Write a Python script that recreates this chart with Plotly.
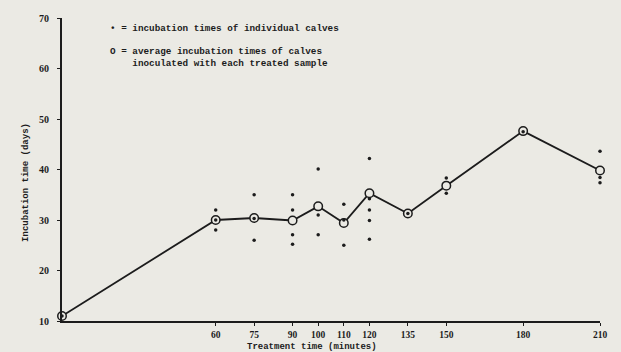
import plotly.graph_objects as go

# Treatment times (minutes)
times = [0, 60, 75, 90, 100, 110, 120, 135, 150, 180, 210]
# Average incubation times (days)
averages = [11.0, 30.0, 30.4, 29.9, 32.7, 29.4, 35.3, 31.3, 36.8, 47.6, 39.8]
# Individual calves incubation times (days) per treatment time
individual = {
    0: [11.0],
    60: [32.0, 30.0, 28.0],
    75: [35.0, 30.3, 26.0],
    90: [35.0, 32.0, 27.1, 25.2],
    100: [40.1, 31.0, 27.1],
    110: [33.1, 30.0, 25.0],
    120: [42.2, 34.2, 32.0, 29.9, 26.2],
    135: [31.3],
    150: [38.3, 35.3],
    180: [47.5],
    210: [43.6, 38.4, 37.4],
}
x_ticks = [60, 75, 90, 100, 110, 120, 135, 150, 180, 210]
y_ticks = [10, 20, 30, 40, 50, 60, 70]

BG = "#ebeae4"
INK = "#1c1c1c"
MONO = "Liberation Mono"
SERIF = "Liberation Serif"

ind_x = [t for t, vals in individual.items() for _ in vals]
ind_y = [v for vals in individual.values() for v in vals]

fig = go.Figure()
fig.add_trace(go.Scatter(
    x=times, y=averages, mode="lines+markers",
    line=dict(color=INK, width=1.8),
    marker=dict(symbol="circle", size=8.5, color=BG,
                line=dict(color=INK, width=1.5)),
    cliponaxis=False, showlegend=False,
))
fig.add_trace(go.Scatter(
    x=ind_x, y=ind_y, mode="markers",
    marker=dict(symbol="circle", size=3.5, color=INK),
    cliponaxis=False, showlegend=False,
))

xtickfont = dict(family=SERIF, size=9.5, color=INK, weight="bold")
ytickfont = dict(family=SERIF, size=10, color=INK, weight="bold")

fig.update_layout(
    width=621, height=352,
    margin=dict(l=62, r=21, t=17, b=30),
    paper_bgcolor=BG, plot_bgcolor=BG,
    showlegend=False,
    xaxis=dict(
        range=[0, 210], tickmode="array", tickvals=x_ticks,
        ticktext=[str(v) for v in x_ticks],
        showgrid=False, zeroline=False,
        showline=True, linecolor=INK, linewidth=2,
        ticks="outside", ticklen=3, tickwidth=1.2, tickcolor=INK,
        tickfont=xtickfont, ticklabelstandoff=1,
    ),
    yaxis=dict(
        range=[10, 70], tickmode="array", tickvals=y_ticks,
        ticktext=[str(v) for v in y_ticks],
        showgrid=False, zeroline=False,
        showline=True, linecolor=INK, linewidth=2,
        ticks="outside", ticklen=3, tickwidth=1.2, tickcolor=INK,
        tickfont=ytickfont,
        ticklabelstandoff=6,
    ),
    annotations=[
        dict(text="<b>Treatment time (minutes)</b>", xref="paper", yref="paper",
             x=0.465, y=-0.086, xanchor="center", yanchor="middle",
             showarrow=False, font=dict(family=MONO, size=9, color=INK)),
        dict(text="<b>Incubation time (days)</b>", xref="paper", yref="paper",
             x=-0.067, y=0.459, xanchor="center", yanchor="middle",
             textangle=-90, showarrow=False,
             font=dict(family=MONO, size=9, color=INK)),
        dict(text="<b>\u2022 = incubation times of individual calves</b>",
             xref="paper", yref="paper", x=0.085, y=0.964,
             xanchor="left", yanchor="middle", showarrow=False,
             font=dict(family=MONO, size=9.3, color=INK)),
        dict(text="<b>O = average incubation times of calves<br>    inoculated with each treated sample</b>",
             xref="paper", yref="paper", x=0.085, y=0.870,
             xanchor="left", yanchor="middle", align="left", showarrow=False,
             font=dict(family=MONO, size=9.3, color=INK)),
    ],
)

fig.write_html("out.html")
